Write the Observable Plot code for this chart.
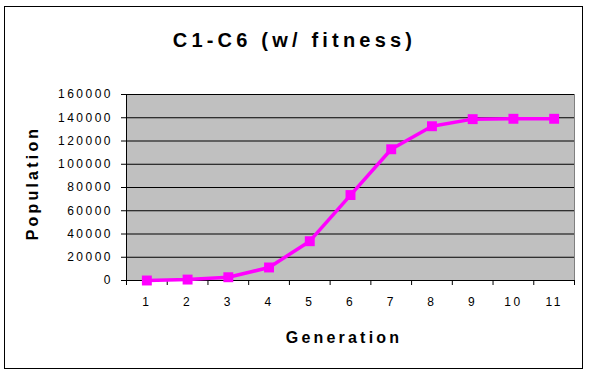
<!DOCTYPE html>
<html>
<head>
<meta charset="utf-8">
<script src="https://cdn.jsdelivr.net/npm/d3@7"></script>
<script src="https://cdn.jsdelivr.net/npm/@observablehq/plot@0.6"></script>
<style>
  html, body { margin: 0; padding: 0; background: #fff; }
  #wrap { position: relative; width: 589px; height: 375px; overflow: hidden; font-family: "Liberation Sans", Arial, sans-serif; }
  #border { position: absolute; left: 4px; top: 6px; width: 577px; height: 361px; border: 1px solid #000; box-sizing: content-box; }
  #title { position: absolute; left: 0; width: 589px; top: 29px; text-align: center; font-size: 20px; font-weight: bold; letter-spacing: 4.2px; color: #000; }
  #xlabel { position: absolute; left: 120px; width: 448px; top: 329px; text-align: center; font-size: 16px; font-weight: bold; letter-spacing: 3.2px; color: #000; }
  #ylabel { position: absolute; left: 33px; top: 183px; transform: translate(-50%, -50%) rotate(-90deg); white-space: nowrap; font-size: 16px; font-weight: bold; letter-spacing: 3.2px; color: #000; }
  #chart { position: absolute; left: 0; top: 0; }
  #chart svg text { letter-spacing: 2.5px; }
</style>
</head>
<body>
<div id="wrap">
  <div id="chart"></div>
  <div id="border"></div>
  <div id="title">C1-C6 (w/ fitness)</div>
  <div id="ylabel">Population</div>
  <div id="xlabel">Generation</div>
</div>
<script>
const generations = [1, 2, 3, 4, 5, 6, 7, 8, 9, 10, 11];
const population = [0, 800, 2800, 11200, 33800, 73500, 112900, 132700, 138800, 139100, 139100];
const yTicks = [0, 20000, 40000, 60000, 80000, 100000, 120000, 140000, 160000];
const xBoundaries = [0.5, 1.5, 2.5, 3.5, 4.5, 5.5, 6.5, 7.5, 8.5, 9.5, 10.5, 11.5];

const data = generations.map((g, i) => ({generation: g, population: population[i]}));

const chart = Plot.plot({
  width: 589,
  height: 375,
  marginLeft: 126,
  marginRight: 15,
  marginTop: 94,
  marginBottom: 95,
  style: {background: "transparent", fontFamily: "Liberation Sans, Arial, sans-serif", fontSize: "12px", color: "#000"},
  x: {type: "linear", domain: [0.5, 11.5]},
  y: {domain: [0, 160000]},
  marks: [
    Plot.frame({fill: "#C0C0C0", stroke: "#808080"}),
    Plot.gridY(yTicks, {stroke: "#000", strokeOpacity: 1, strokeWidth: 1}),
    Plot.axisY(yTicks, {tickSize: 5, tickPadding: 8.5, stroke: "#000", tickFormat: d => String(d), label: null}),
    Plot.axisX(generations, {tickSize: 0, tickPadding: 17, tickFormat: d => String(d), label: null}),
    Plot.axisX(xBoundaries, {tickSize: 5, stroke: "#000", tickFormat: () => "", label: null}),
    Plot.ruleX([0.5], {stroke: "#000"}),
    Plot.ruleY([0], {stroke: "#000"}),
    Plot.line(data, {x: "generation", y: "population", stroke: "#FF00FF", strokeWidth: 3.5}),
    Plot.dot(data, {x: "generation", y: "population", symbol: "square", r: 5.6, fill: "#FF00FF", stroke: "none"})
  ]
});
document.getElementById("chart").appendChild(chart);
</script>
</body>
</html>
